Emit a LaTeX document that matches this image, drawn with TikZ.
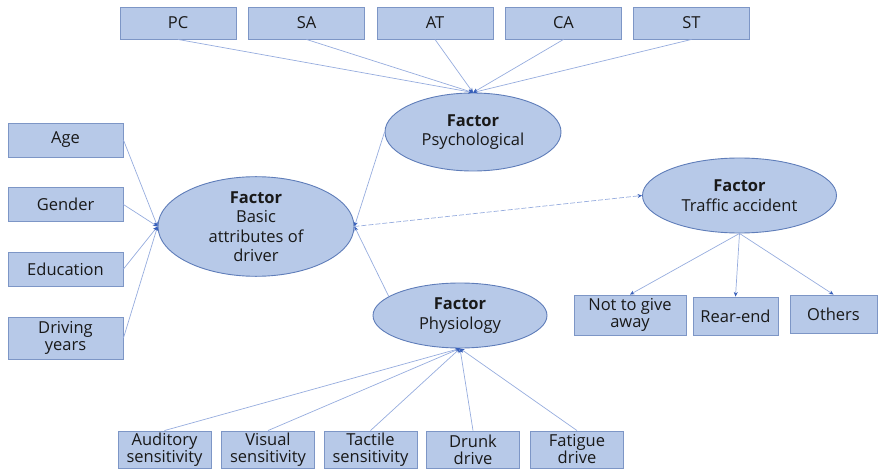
\documentclass[tikz,border=0pt]{standalone}
\usepackage{fontspec}
\setmainfont{Open Sans}
\usetikzlibrary{shapes.geometric,arrows.meta}
\definecolor{boxfill}{RGB}{183,201,232}
\definecolor{boxline}{RGB}{125,150,198}
\definecolor{ellline}{RGB}{95,125,185}
\definecolor{linkcol}{RGB}{150,172,222}
\definecolor{tipcol}{RGB}{55,95,185}
\tikzset{
  itembox/.style={draw=boxline, fill=boxfill, line width=0.9pt, rectangle,
    inner sep=0pt, align=center, font=\fontsize{16.5}{17}\selectfont, text=black!90},
  factor/.style={draw=ellline, fill=boxfill, line width=0.9pt, ellipse,
    inner sep=0pt, align=center, font=\fontsize{16.5}{19.5}\selectfont, text=black!90},
  link/.style={draw=linkcol, line width=0.7pt,
    -{Stealth[length=4.5pt,width=4pt,color=tipcol]}},
  dashlink/.style={link, dashed, dash pattern=on 5pt off 2pt}
}
\begin{document}
\begin{tikzpicture}[x=1pt,y=-1pt]
\useasboundingbox (0,0) rectangle (878,473);

% top row: psychological items
\foreach \n/\t/\x in {pc/PC/178, sa/SA/306.5, at/AT/435, ca/CA/563.5, st/ST/691.5}
  \node[itembox, minimum width=116pt, minimum height=32pt] (\n) at (\x,23) {\t};

% left column: driver attributes
\node[itembox, minimum width=115pt, minimum height=34pt] (age) at (65.5,140) {Age};
\node[itembox, minimum width=115pt, minimum height=34pt] (gender) at (65.5,204.5) {Gender};
\node[itembox, minimum width=115pt, minimum height=34pt] (edu) at (65.5,269) {Education};
\node[itembox, minimum width=115pt, minimum height=42pt] (years) at (65.5,338) {Driving\\years};

% bottom row: physiological items
\foreach \n/\t/\x in {aud/{Auditory\\sensitivity}/164.5, vis/{Visual\\sensitivity}/268,
    tac/{Tactile\\sensitivity}/370.5, drunk/{Drunk\\drive}/473, fat/{Fatigue\\drive}/577}
  \node[itembox, minimum width=93pt, minimum height=37pt] (\n) at (\x,449.5) {\t};

% accident types
\node[itembox, minimum width=112pt, minimum height=40pt] (give) at (630,315) {Not to give\\away};
\node[itembox, minimum width=85pt, minimum height=38pt] (rear) at (735.5,316) {Rear-end};
\node[itembox, minimum width=87pt, minimum height=38pt] (others) at (833.5,314) {Others};

% factors
\node[factor, minimum width=176pt, minimum height=78pt] (psych) at (473,132)
  {\textbf{Factor}\\Psychological};
\node[factor, minimum width=196pt, minimum height=77pt] (basic) at (256,226.5)
  {\textbf{Factor}\\Basic\\attributes of\\driver};
\node[factor, minimum width=174pt, minimum height=65pt] (physio) at (460,315.5)
  {\textbf{Factor}\\Physiology};
\node[factor, minimum width=194pt, minimum height=75pt] (traffic) at (739.5,195.5)
  {\textbf{Factor}\\Traffic accident};

% connectors
\foreach \n in {pc,sa,at,ca,st}
  \draw[link] (\n.south) -- (psych.north);
\foreach \n in {age,gender,edu,years}
  \draw[link] (\n.east) -- (basic.west);
\foreach \n in {aud,vis,tac,drunk,fat}
  \draw[link] (\n.north) -- (physio.south);
\draw[link] (psych.west) -- (basic.east);
\draw[link] (physio.165) -- (basic.east);
\draw[dashlink] (basic.east) -- (traffic.west);
\foreach \n in {give,rear,others}
  \draw[link] (traffic.south) -- (\n.north);
\end{tikzpicture}
\end{document}
